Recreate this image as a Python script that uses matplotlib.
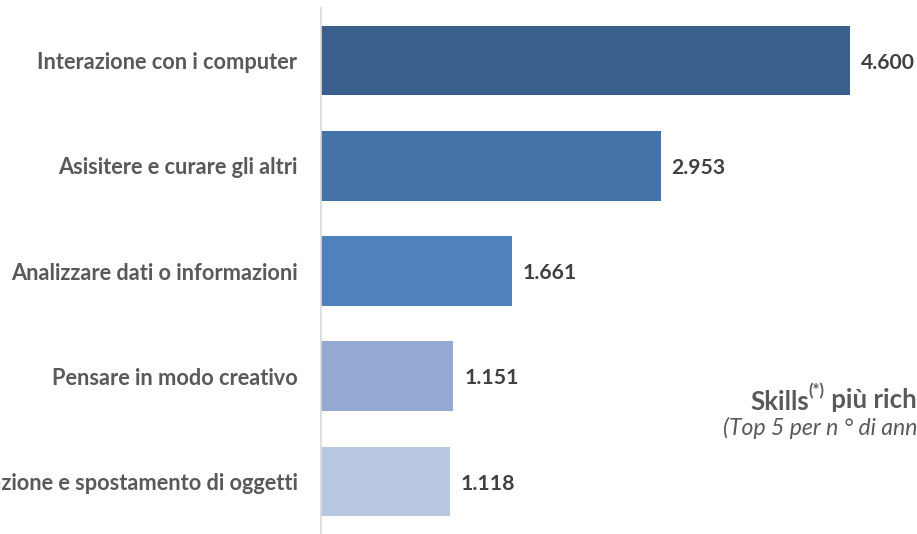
import matplotlib.pyplot as plt

plt.rcParams['font.family'] = ['Lato', 'DejaVu Sans']

# dati
skills = ["Interazione con i computer",
          "Asisitere e curare gli altri",
          "Analizzare dati o informazioni",
          "Pensare in modo creativo",
          "Movimentazione e spostamento di oggetti"]
valori = [4.600, 2.953, 1.661, 1.151, 1.118]
etichette = ["4.600", "2.953", "1.661", "1.151", "1.118"]
colori = ["#3B5F8C", "#4572A7", "#4F81BD", "#95AAD2", "#B9C8E1"]

W, H = 917, 534
fig = plt.figure(figsize=(W / 100, H / 100), dpi=100)
ax = fig.add_axes([321 / W, 0, 596 / W, 526 / H])

pos = list(range(len(skills)))
ax.barh(pos, valori, height=0.66, color=colori)
ax.set_ylim(4.5, -0.5)
ax.set_xlim(0, 596 / 115)

for p, v, t in zip(pos, valori, etichette):
    ax.text(v + 0.095, p + 0.02, t, va='center', ha='left',
            fontsize=15.2, fontweight='bold', color='#404040')

ax.set_yticks(pos)
ax.set_yticklabels(skills, fontsize=15.7, fontweight='bold', color='#595959')
ax.tick_params(axis='y', length=0, pad=17)
ax.set_xticks([])

for s in ['top', 'right', 'bottom']:
    ax.spines[s].set_visible(False)
ax.spines['left'].set_color('#D9D9D9')
ax.spines['left'].set_linewidth(1.2)

# titolo (tagliato a destra come nell'originale)
t1 = fig.text(750 / W, 1 - 410 / H, "Skills", fontsize=18.5, fontweight='bold',
              color='#595959', va='baseline', ha='left')
t2 = ax.annotate("(*)", xy=(1, 0.6), xycoords=t1, xytext=(0, 0),
                 textcoords='offset points', fontsize=12, fontweight='bold',
                 color='#595959', va='bottom', ha='left')
ax.annotate(" più richieste", xy=(1, 0), xycoords=t2, xytext=(0, -9),
            textcoords='offset points', fontsize=18.5, fontweight='bold',
            color='#595959', va='bottom', ha='left')
fig.text(723 / W, 1 - 435 / H, "(Top 5 per n ° di annunci)", fontsize=16.6,
         fontstyle='italic', color='#595959', va='baseline', ha='left')

plt.savefig('out.png', dpi=100)
